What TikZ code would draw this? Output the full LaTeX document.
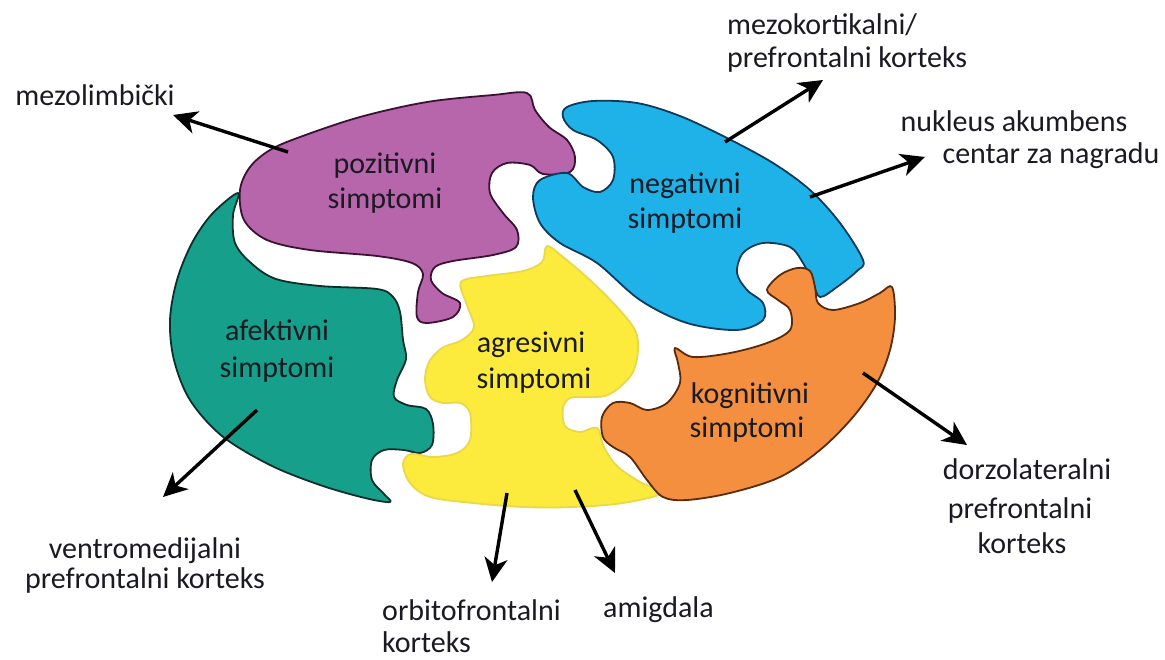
\documentclass[tikz,border=0pt]{standalone}
\usepackage{fontspec}
\setmainfont{Carlito}
\usetikzlibrary{arrows.meta}
\definecolor{cpink}{HTML}{B866AB}
\definecolor{cpinkline}{HTML}{3A1234}
\definecolor{cblue}{HTML}{1EB2E8}
\definecolor{cblueline}{HTML}{0E3A5C}
\definecolor{cteal}{HTML}{16A08C}
\definecolor{ctealline}{HTML}{0B2F2A}
\definecolor{cyellow}{HTML}{FCEB3C}
\definecolor{cyellowline}{HTML}{E8D84A}
\definecolor{corange}{HTML}{F48F40}
\definecolor{corangeline}{HTML}{5A2A0A}
\definecolor{ctext}{HTML}{1A1A22}
\tikzset{
  piece/.style={line width=1.8pt, line join=round},
  lbl/.style={font=\fontsize{30}{35}\selectfont, text=ctext, inner sep=0pt, anchor=base},
  lblw/.style={lbl, anchor=base west},
  ptr/.style={draw=black, line width=3.4pt, -{Stealth[length=24pt,width=23pt,inset=7pt]}},
}
\begin{document}
\begin{tikzpicture}[x=1pt,y=-1pt]
\useasboundingbox (0,0) rectangle (1165,659);
\fill[white] (0,0) rectangle (1165,659);

% pozitivni (pink)
\filldraw[piece, fill=cpink, draw=cpinkline] plot[smooth cycle, tension=0.55] coordinates {
(240,190) (250,167) (270,150) (300,137) (360,117) (427,102) (493,95) (527,93)
(535,110) (549,127) (567,140) (575,157) (570,172) (543,174) (530,165) (507,163)
(492,173) (490,193) (503,213) (517,230) (516,247) (493,255) (453,261) (435,267)
(431,280) (442,293) (460,303) (453,317) (427,323) (417,317) (418,292) (423,274)
(412,263) (377,256) (310,250) (267,240) (244,220)};

% negativni (blue)
\filldraw[piece, fill=cblue, draw=cblueline] plot[smooth cycle, tension=0.55] coordinates {
(567,107) (593,101) (637,103) (680,116) (727,138) (773,163) (810,190) (840,223)
(863,260) (857,271) (837,287) (820,297) (813,283) (803,263) (790,247) (763,243)
(743,253) (737,273) (747,290) (763,303) (763,320) (737,330) (687,323) (640,300)
(597,263) (560,243) (540,223) (533,197) (540,180) (567,173) (583,187) (600,192)
(613,180) (613,157) (597,140) (573,130) (563,117)};

% afektivni (teal)
\filldraw[piece, fill=cteal, draw=ctealline] plot[smooth cycle, tension=0.55] coordinates {
(238,193) (212,214) (192,243) (177,280) (170,320) (174,360) (190,400) (222,436)
(270,465) (320,485) (365,498) (390,502) (384,494) (372,480) (372,460) (384,450)
(404,450) (420,453) (432,445) (433,424) (426,409) (407,405) (394,397) (397,380)
(406,359) (403,340) (400,312) (393,297) (377,289) (320,286) (276,279) (251,263)
(235,243) (233,215)};

% agresivni (yellow)
\filldraw[piece, fill=cyellow, draw=cyellowline] plot[smooth cycle, tension=0.55] coordinates {
(547,246) (563,257) (590,280) (617,307) (635,330) (638,350) (633,372) (620,387)
(605,396) (586,397) (570,398) (563,408) (565,426) (580,432) (597,428) (604,447)
(617,466) (640,482) (662,493) (623,503) (573,507) (523,507) (473,503) (430,497)
(410,483) (403,464) (411,454) (433,457) (457,453) (470,440) (470,413) (460,403)
(443,403) (430,397) (425,380) (429,362) (442,348) (462,340) (474,327) (467,305)
(461,282) (487,276) (523,271) (542,262)};

% kognitivni (orange)
\filldraw[piece, fill=corange, draw=corangeline] plot[smooth cycle, tension=0.55] coordinates {
(767,290) (780,275) (797,268) (810,271) (815,287) (818,303) (833,310) (860,303)
(880,293) (892,287) (895,317) (890,350) (877,383) (853,417) (820,450) (780,477)
(730,493) (687,500) (663,497) (647,480) (630,457) (613,447) (603,437) (602,417)
(613,403) (630,403) (647,410) (667,403) (680,383) (678,363) (675,348) (693,357)
(730,353) (767,343) (790,330) (790,310) (778,300)};

% piece labels
\node[lbl] (pos1) at (385,173) {pozitivni};
\node[lbl] (pos2) at (385,208) {simptomi};
\node[lbl] (neg1) at (685,193) {negativni};
\node[lbl] (neg2) at (685,228) {simptomi};
\node[lbl] (afe1) at (277,340) {afektivni};
\node[lbl] (afe2) at (277,377) {simptomi};
\node[lbl] (agr1) at (531,352) {agresivni};
\node[lbl] (agr2) at (534,388) {simptomi};
\node[lbl] (kog1) at (750,403) {kognitivni};
\node[lbl] (kog2) at (747,437) {simptomi};

% outer labels
\node[lbl] (mezl) at (95,105) {mezolimbički};
\node[lblw] (mezk1) at (727,34) {mezokortikalni/};
\node[lblw] (mezk2) at (727,67) {prefrontalni korteks};
\node[lbl] (nuk1) at (1014,131) {nukleus akumbens};
\node[lbl] (nuk2) at (1051,163) {centar za nagradu};
\node[lbl] (ven1) at (145,558) {ventromedijalni};
\node[lbl] (ven2) at (145,588) {prefrontalni korteks};
\node[lblw] (orb1) at (382,620) {orbitofrontalni};
\node[lblw] (orb2) at (382,652) {korteks};
\node[lblw] (amg) at (603,617) {amigdala};
\node[lbl] (dor1) at (1027,479) {dorzolateralni};
\node[lbl] (dor2) at (1020,518) {prefrontalni};
\node[lbl] (dor3) at (1022,553) {korteks};

% arrow ends
\coordinate (t1) at (288,152); \coordinate (h1) at (173,115);
\coordinate (t2) at (725,142); \coordinate (h2) at (823,80);
\coordinate (t3) at (810,197); \coordinate (h3) at (925,157);
\coordinate (t4) at (257,410); \coordinate (h4) at (163,497);
\coordinate (t5) at (507,493); \coordinate (h5) at (492,582);
\coordinate (t6) at (575,490); \coordinate (h6) at (615,573);
\coordinate (t7) at (863,373); \coordinate (h7) at (967,445);

\draw[ptr] (t1) -- (h1);
\draw[ptr] (t2) -- (h2);
\draw[ptr] (t3) -- (h3);
\draw[ptr] (t4) -- (h4);
\draw[ptr] (t5) -- (h5);
\draw[ptr] (t6) -- (h6);
\draw[ptr] (t7) -- (h7);
\end{tikzpicture}
\end{document}
